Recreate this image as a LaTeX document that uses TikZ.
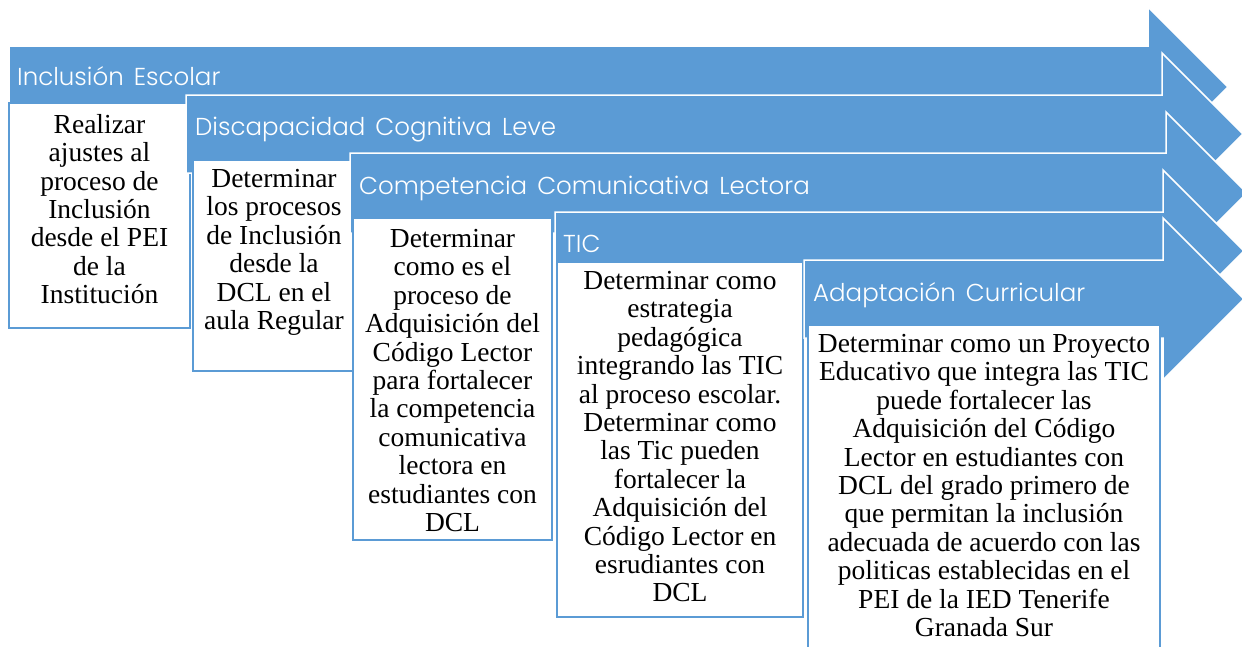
\documentclass[tikz,border=0pt]{standalone}
\usepackage{fontspec}
\setmainfont{Liberation Serif}
\newfontfamily\titlefont{Poppins Light}
\newcommand\widegaps{\spaceskip 10pt\relax}
\definecolor{stepblue}{RGB}{91,155,213}

\begin{document}
\begin{tikzpicture}[x=1pt, y=-1pt,
    steparrow/.style = {fill=stepblue, draw=white, line width=1.5pt},
    stepbox/.style = {fill=white, draw=stepblue, line width=2pt},
    steptitle/.style = {anchor=base west, inner sep=0pt, text=white, font=\titlefont\fontsize{24.5}{26}\selectfont\widegaps},
    steptext/.style = {anchor=north, inner sep=0pt, align=center, font=\fontsize{27.5}{28.4}\selectfont}]
  \clip (0,0) rectangle (1242,646);

  % Inclusion Escolar
  \draw[steparrow] (9,46) -- (1148,46) -- (1148,7) -- (1228,87) -- (1148,167) -- (1148,128) -- (9,128) -- cycle;
  \node[steptitle] (title1) at (17,85) {Inclusión Escolar};
  \draw[stepbox] (9,103) rectangle (190,328);
  \node[steptext] (text1) at (99.5,114) {Realizar\\ajustes al\\proceso de\\Inclusión\\desde el PEI\\de la\\Institución};

  % Discapacidad Cognitiva Leve
  \draw[steparrow] (186,95) -- (1162,95) -- (1162,53) -- (1243,134) -- (1162,215) -- (1162,173) -- (186,173) -- cycle;
  \node[steptitle] (title2) at (195,135) {Discapacidad Cognitiva Leve};
  \draw[stepbox] (193,160) rectangle (355,371);
  \node[steptext] (text2) at (274,169) {Determinar\\los procesos\\de Inclusión\\desde la\\DCL en el\\aula Regular};

  % Competencia Comunicativa Lectora
  \draw[steparrow] (350,153) -- (1166,153) -- (1166,112) -- (1247,193) -- (1166,274) -- (1166,233) -- (350,233) -- cycle;
  \node[steptitle] (title3) at (359,194) {Competencia Comunicativa Lectora};
  \draw[stepbox] (353,218) rectangle (552,540);
  \node[steptext] (text3) at (452.5,229) {Determinar\\como es el\\proceso de\\Adquisición del\\Código Lector\\para fortalecer\\la competencia\\comunicativa\\lectora en\\estudiantes con\\DCL};

  % TIC
  \draw[steparrow] (555,212) -- (1163,212) -- (1163,170) -- (1244,251) -- (1163,332) -- (1163,290) -- (555,290) -- cycle;
  \node[steptitle] (title4) at (563,252) {TIC};
  \draw[stepbox] (557,262) rectangle (803,617);
  \node[steptext] (text4) at (680,271) {Determinar como\\estrategia\\pedagógica\\integrando las TIC\\al proceso escolar.\\Determinar como\\las Tic pueden\\fortalecer la\\Adquisición del\\Código Lector en\\esrudiantes con\\DCL};

  % Adaptacion Curricular
  \draw[steparrow] (804,260) -- (1163,260) -- (1163,218) -- (1244,299) -- (1163,380) -- (1163,338) -- (804,338) -- cycle;
  \node[steptitle] (title5) at (813,301) {Adaptación Curricular};
  \draw[stepbox] (808,325) rectangle (1160,660);
  \node[steptext] (text5) at (984,334) {Determinar como un Proyecto\\Educativo que integra las TIC\\puede fortalecer las\\Adquisición del Código\\Lector en estudiantes con\\DCL del grado primero de\\que permitan la inclusión\\adecuada de acuerdo con las\\politicas establecidas en el\\PEI de la IED Tenerife\\Granada Sur};
\end{tikzpicture}
\end{document}
